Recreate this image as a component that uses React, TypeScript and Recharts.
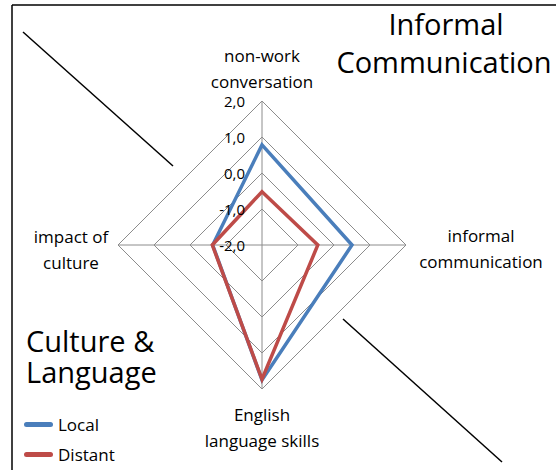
import React from "react";
import { RadarChart, Radar, PolarGrid, PolarAngleAxis, PolarRadiusAxis, Legend } from "recharts";

const categories = [
  ["non-work", "conversation"],
  ["informal", "communication"],
  ["English", "language skills"],
  ["impact of", "culture"],
];
const localValues = [0.78, 0.5, 1.75, -0.63];
const distantValues = [-0.52, -0.45, 1.73, -0.62];
const radiusTicks = [-2, -1, 0, 1, 2];
const seriesNames = ["Local", "Distant"];
const seriesColors = ["#4a7ebb", "#be4b48"];

const data = categories.map((lines, i) => ({
  axis: lines.join(" "),
  Local: localValues[i],
  Distant: distantValues[i],
}));

const W = 556;
const H = 470;
const CX = 262;
const CY = 245;
const R = 144;
const FONT = "'Open Sans', sans-serif";

// where the two-line category labels sit, relative to the centre
const labelPos = [
  { x: 0, y: -183 },
  { x: 219, y: -3 },
  { x: 0, y: 176 },
  { x: -191, y: -2 },
];

const AngleTick = (props: any) => {
  const i = props.index;
  const lines = categories[i];
  const p = labelPos[i];
  return (
    <text x={CX + p.x} y={CY + p.y} textAnchor="middle" fontSize={17} fontFamily={FONT} fill="#000">
      {lines.map((l, k) => (
        <tspan key={k} x={CX + p.x} dy={k === 0 ? 0 : 26}>
          {l}
        </tspan>
      ))}
    </text>
  );
};

const RadiusTick = (props: any) => {
  const v = Number(props.payload.value);
  return (
    <text
      x={props.x - 17}
      y={props.y}
      textAnchor="end"
      dominantBaseline="central"
      fontSize={15}
      fontFamily={FONT}
      fill="#000"
    >
      {v.toFixed(1).replace(".", ",")}
    </text>
  );
};

const LegendContent = () => (
  <div>
    {seriesNames.map((name, i) => (
      <div key={name} style={{ display: "flex", alignItems: "center", height: 30 }}>
        <span
          style={{
            display: "inline-block",
            width: 29,
            height: 5,
            borderRadius: 3,
            background: seriesColors[i],
            marginRight: 5,
          }}
        />
        <span style={{ fontSize: 17, fontFamily: FONT, color: "#000" }}>{name}</span>
      </div>
    ))}
  </div>
);

export default function App() {
  return (
    <div style={{ position: "absolute", left: 0, top: 0, width: W, height: H, background: "#fff" }}>
      <RadarChart
        width={W}
        height={H}
        data={data}
        cx={CX}
        cy={CY}
        outerRadius={R}
        margin={{ top: 0, right: 0, bottom: 0, left: 0 }}
      >
        <PolarGrid gridType="polygon" stroke="#8c8c8c" strokeWidth={1} />
        <PolarAngleAxis dataKey="axis" tick={AngleTick} tickLine={false} axisLine={false} />
        <PolarRadiusAxis
          angle={90}
          domain={[-2, 2]}
          ticks={radiusTicks as any}
          tickCount={5}
          axisLine={false}
          tickLine={false}
          tick={RadiusTick}
        />
        {seriesNames.map((name, i) => (
          <Radar
            key={name}
            name={name}
            dataKey={name}
            stroke={seriesColors[i]}
            strokeWidth={3.5}
            fill="none"
            fillOpacity={0}
            dot={false}
            isAnimationActive={false}
          />
        ))}
        <Legend
          layout="vertical"
          content={LegendContent}
          wrapperStyle={{ position: "absolute", left: 24, top: 409, width: 120 }}
        />
      </RadarChart>
      <svg width={W} height={H} style={{ position: "absolute", left: 0, top: 0, pointerEvents: "none" }}>
        <line x1={12} y1={5} x2={W} y2={5} stroke="#000" strokeWidth={1.5} />
        <line x1={12} y1={5} x2={12} y2={H} stroke="#000" strokeWidth={1.5} />
        <line x1={23} y1={32} x2={173} y2={166} stroke="#000" strokeWidth={1.5} />
        <line x1={343} y1={319} x2={502} y2={462} stroke="#000" strokeWidth={1.5} />
        <text x={446} y={35} textAnchor="middle" fontSize={29} fontFamily={FONT}>
          Informal
        </text>
        <text x={444} y={73} textAnchor="middle" fontSize={29} fontFamily={FONT}>
          Communication
        </text>
        <text x={26} y={352} fontSize={29} fontFamily={FONT}>
          Culture &amp;
        </text>
        <text x={26} y={383} fontSize={29} fontFamily={FONT}>
          Language
        </text>
      </svg>
    </div>
  );
}
